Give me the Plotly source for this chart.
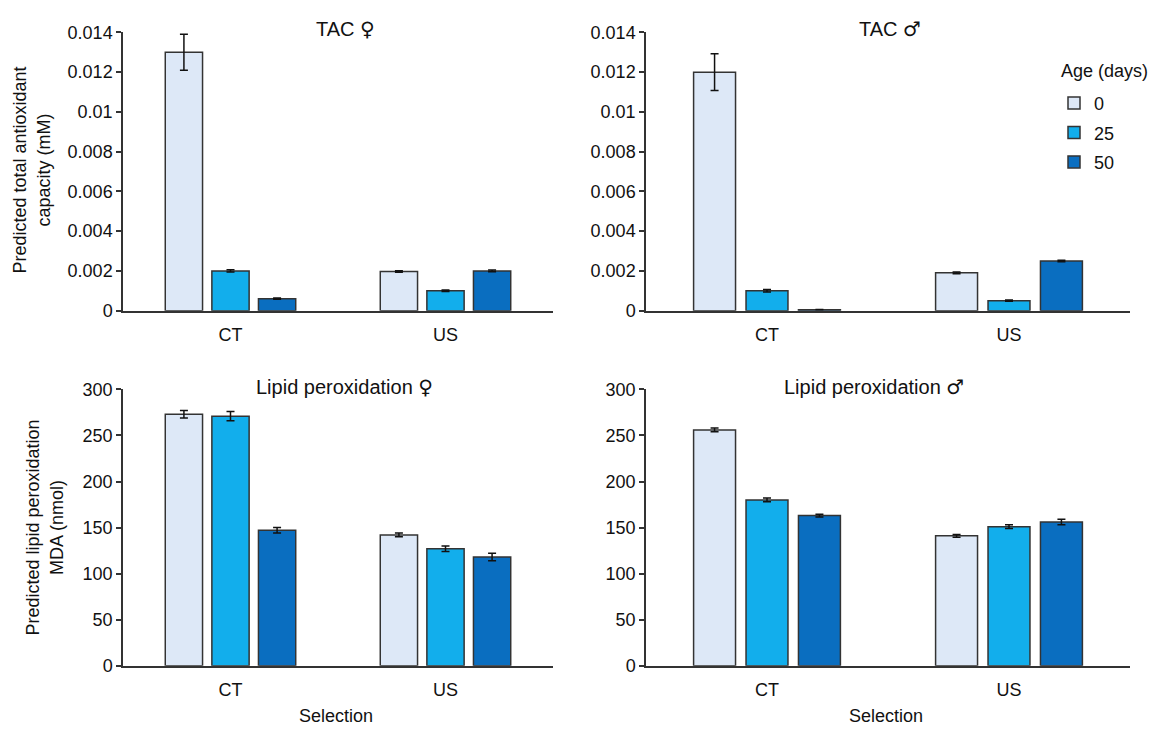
import plotly.graph_objects as go

# ---------------- data ----------------
selection = ["CT", "US"]
ages = ["0", "25", "50"]
colors = ["#DDE8F7", "#12AEEC", "#0A6EC0"]

tac_f = {"0": [0.0130, 0.00197], "25": [0.0020, 0.0010], "50": [0.0006, 0.0020]}
tac_f_err = {"0": [0.0009, 0.00004], "25": [0.00006, 0.00004], "50": [0.00003, 0.00004]}

tac_m = {"0": [0.0120, 0.0019], "25": [0.0010, 0.0005], "50": [0.00005, 0.0025]}
tac_m_err = {"0": [0.00093, 0.00004], "25": [0.00006, 0.00003], "50": [0.00001, 0.00004]}

lip_f = {"0": [273, 142], "25": [271, 127], "50": [147, 118]}
lip_f_err = {"0": [4, 2], "25": [5, 3], "50": [3, 4]}

lip_m = {"0": [256, 141], "25": [180, 151], "50": [163, 156]}
lip_m_err = {"0": [2, 1.5], "25": [2, 2], "50": [1.5, 3]}

tac_ticks = [0, 0.002, 0.004, 0.006, 0.008, 0.01, 0.012, 0.014]
tac_ticktext = ["0", "0.002", "0.004", "0.006", "0.008", "0.01", "0.012", "0.014"]
lip_ticks = [0, 50, 100, 150, 200, 250, 300]

panels = [
    (tac_f, tac_f_err, "x", "y"),
    (tac_m, tac_m_err, "x2", "y2"),
    (lip_f, lip_f_err, "x3", "y3"),
    (lip_m, lip_m_err, "x4", "y4"),
]

FONT = "Liberation Sans, Arial, sans-serif"
SYM = "<span style='font-family:DejaVu Sans'>{}</span>"
LINE = "#333333"
FS = 18
FT = 20

fig = go.Figure()
for p, (vals, errs, xa, ya) in enumerate(panels):
    for i, a in enumerate(ages):
        fig.add_trace(go.Bar(
            x=selection, y=vals[a], name=a,
            xaxis=xa, yaxis=ya,
            marker=dict(color=colors[i], line=dict(color=LINE, width=1.5)),
            error_y=dict(type="data", array=errs[a], color="#111111",
                         thickness=1.5, width=4),
            legendgroup=a, showlegend=(p == 0),
            offsetgroup=a,
        ))

W, H = 1161, 738
def px(x): return x / W
def py(y): return 1 - y / H

xd1 = [px(123), px(553)]
xd2 = [px(646), px(1130)]
yd_top = [py(309), py(23)]
yd_bot = [py(674), py(390)]

def xaxis(domain, anchor):
    return dict(domain=domain, anchor=anchor, range=[-0.5, 1.5],
                showline=True, linecolor=LINE, linewidth=1.5,
                ticks="outside", ticklen=7, tickcolor="rgba(0,0,0,0)",
                tickfont=dict(size=FS, color="#111111", family=FONT),
                showgrid=False, zeroline=False, fixedrange=True)

def yaxis(domain, anchor, rng, tv, tt):
    return dict(domain=domain, anchor=anchor, range=rng,
                tickvals=tv, ticktext=tt,
                showline=True, linecolor=LINE, linewidth=1.5,
                ticks="outside", ticklen=5, tickcolor=LINE, tickwidth=1.5,
                tickfont=dict(size=FS, color="#111111", family=FONT),
                showgrid=False, zeroline=False)

ann_font = dict(size=FT, color="#111111", family=FONT)
lab_font = dict(size=FS, color="#111111", family=FONT)
annotations = [
    dict(text="TAC " + SYM.format("♀"), x=px(345), y=py(20), font=ann_font),
    dict(text="TAC " + SYM.format("♂"), x=px(890), y=py(20), font=ann_font),
    dict(text="Lipid peroxidation " + SYM.format("♀"), x=px(344), y=py(388), font=ann_font),
    dict(text="Lipid peroxidation " + SYM.format("♂"), x=px(874), y=py(388), font=ann_font),
    dict(text="Selection", x=px(336), y=py(726), font=lab_font),
    dict(text="Selection", x=px(886), y=py(726), font=lab_font),
    dict(text="Predicted total antioxidant<br>capacity (mM)", x=px(32), y=py(165),
         textangle=-90, font=lab_font),
    dict(text="Predicted lipid peroxidation<br>MDA (nmol)", x=px(45), y=py(532),
         textangle=-90, font=lab_font),
    dict(text="Age (days)", x=px(1104), y=py(63), font=lab_font),
]
for a in annotations:
    a.update(xref="paper", yref="paper", showarrow=False,
             xanchor="center", yanchor="middle")

fig.update_layout(
    width=W, height=H,
    margin=dict(l=0, r=0, t=0, b=0),
    paper_bgcolor="white", plot_bgcolor="white",
    barmode="group", bargap=0.35, bargroupgap=0.2,
    font=dict(family=FONT, size=FS, color="#111111"),
    xaxis=xaxis(xd1, "y"),
    yaxis=yaxis(yd_top, "x", [0, 0.014], tac_ticks, tac_ticktext),
    xaxis2=xaxis(xd2, "y2"),
    yaxis2=yaxis(yd_top, "x2", [0, 0.014], tac_ticks, tac_ticktext),
    xaxis3=xaxis(xd1, "y3"),
    yaxis3=yaxis(yd_bot, "x3", [0, 300], lip_ticks, [str(v) for v in lip_ticks]),
    xaxis4=xaxis(xd2, "y4"),
    yaxis4=yaxis(yd_bot, "x4", [0, 300], lip_ticks, [str(v) for v in lip_ticks]),
    legend=dict(x=px(1054), y=py(77), xanchor="left", yanchor="top",
                traceorder="grouped", tracegroupgap=3,
                font=dict(size=FS, family=FONT, color="#111111"),
                bgcolor="rgba(0,0,0,0)", itemwidth=30),
    annotations=annotations,
    showlegend=True,
)

fig.write_html("out.html", config={"displayModeBar": False},
               post_script="document.body.style.margin='0px';")
